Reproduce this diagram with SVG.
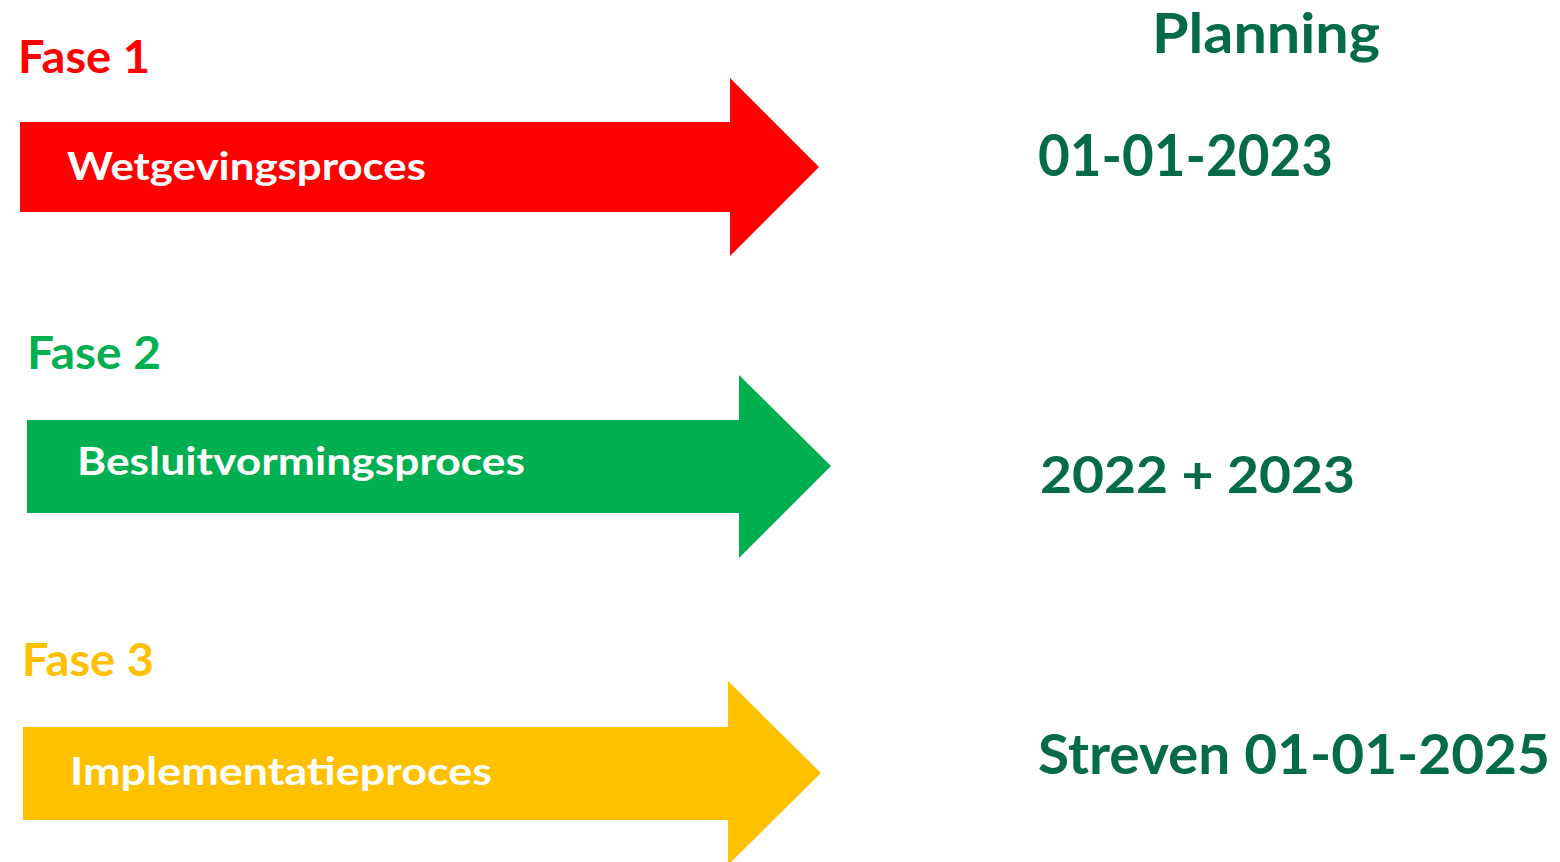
<svg xmlns="http://www.w3.org/2000/svg" width="1560" height="862" viewBox="0 0 1560 862">
<style>
text{font-family:Lato,"Open Sans","Liberation Sans",sans-serif;font-weight:bold;}
.fase{font-size:46px;}
.proc{font-size:39px;fill:#FFFFFF;}
.plan{fill:#036C46;}
</style>
<rect x="0" y="0" width="1560" height="862" fill="#FFFFFF"/>
<g id="connectors"></g>
<g id="fase1">
<text class="fase" x="18" y="73" fill="#FF0000" textLength="132" lengthAdjust="spacingAndGlyphs">Fase 1</text>
<polygon points="20,122 730,122 730,78 819,167 730,256 730,212 20,212" fill="#FF0000"/>
<text class="proc" x="67" y="180" textLength="359" lengthAdjust="spacingAndGlyphs">Wetgevingsproces</text>
</g>
<g id="fase2">
<text class="fase" x="27" y="369" fill="#00B050" textLength="134" lengthAdjust="spacingAndGlyphs">Fase 2</text>
<polygon points="27,420 739,420 739,375 831,466 739,558 739,513 27,513" fill="#00B050"/>
<text class="proc" x="77" y="475" textLength="448" lengthAdjust="spacingAndGlyphs">Besluitvormingsproces</text>
</g>
<g id="fase3">
<text class="fase" x="22" y="676" fill="#FFC000" textLength="132" lengthAdjust="spacingAndGlyphs">Fase 3</text>
<polygon points="23,727 728,727 728,681 821,773 728,865 728,820 23,820" fill="#FFC000"/>
<text class="proc" x="70" y="785" textLength="422" lengthAdjust="spacingAndGlyphs">Implementatieproces</text>
</g>
<g id="planning">
<text class="plan" x="1152" y="53" font-size="56" textLength="228" lengthAdjust="spacingAndGlyphs">Planning</text>
<text class="plan" x="1038" y="176" font-size="57" textLength="295" lengthAdjust="spacingAndGlyphs">01-01-2023</text>
<text class="plan" x="1040" y="493" font-size="51" textLength="315" lengthAdjust="spacingAndGlyphs">2022 + 2023</text>
<text class="plan" x="1038" y="774" font-size="56" textLength="512" lengthAdjust="spacingAndGlyphs">Streven 01-01-2025</text>
</g>
</svg>
